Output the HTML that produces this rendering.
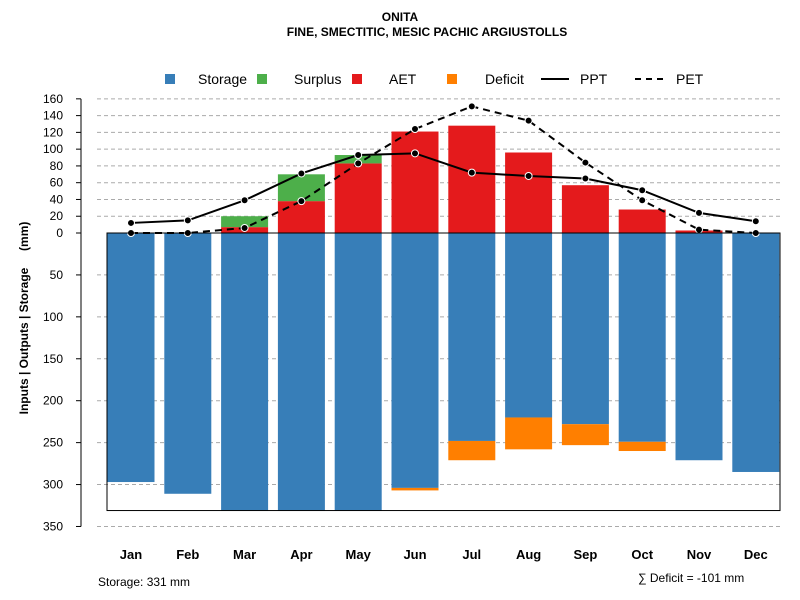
<!DOCTYPE html>
<html><head><meta charset="utf-8"><style>
body{margin:0;background:#fff;}
svg{display:block;font-family:"Liberation Sans",sans-serif;}
</style></head><body>
<svg id="chart" width="800" height="600" xmlns="http://www.w3.org/2000/svg">
<text x="400" y="21" text-anchor="middle" font-size="12" font-weight="bold">ONITA</text>
<text x="427" y="36" text-anchor="middle" font-size="12" font-weight="bold">FINE, SMECTITIC, MESIC PACHIC ARGIUSTOLLS</text>
<text transform="translate(28,318) rotate(-90)" text-anchor="middle" font-size="12" font-weight="bold" style="white-space:pre">Inputs | Outputs | Storage     (mm)</text>
<text x="98" y="586" font-size="12">Storage: 331 mm</text>
<text x="638" y="582" font-size="12">∑ Deficit = -101 mm</text>
<g id="legend"></g>
<g id="grid"></g><g id="bars"></g><g id="lines"></g><g id="axes"></g>
</svg>
<script>
const months=["Jan","Feb","Mar","Apr","May","Jun","Jul","Aug","Sep","Oct","Nov","Dec"];
const storage=[297,311,331,331,331,304,248,220,228,249,271,285];
const deficit=[0,0,0,0,0,3,23,38,25,11,0,0];
const aet=[0,0,7,38,83,121,128,96,57,28,3,0];
const surplus=[0,0,13,32,10,0,0,0,0,0,0,0];
const ppt=[12,15,39,71,93,95,72,68,65,51,24,14];
const pet=[0,0,6,38,83,124,151,134,84,39,4,0];
const posTicks=[0,20,40,60,80,100,120,140,160];
const negTicks=[50,100,150,200,250,300,350];
const maxStorage=331;
const NS="http://www.w3.org/2000/svg";
const y0=233,k=0.8385;
const yp=v=>y0-v*k, yn=v=>y0+v*k;
const xc=i=>131+i*56.8;
const bw=47;
function mk(tag,attrs,parent){const e=document.createElementNS(NS,tag);for(const a in attrs)e.setAttribute(a,attrs[a]);document.getElementById(parent).appendChild(e);return e;}
posTicks.forEach(t=>{
  if(t>0){const g=mk('line',{x1:97,x2:780,y1:yp(t),y2:yp(t),stroke:'#aaa','stroke-dasharray':'4,3'},'grid');
  
  }
  mk('line',{x1:76,x2:81,y1:yp(t),y2:yp(t),stroke:'#000'},'axes');
  const tx=mk('text',{x:63,y:yp(t)+4,'text-anchor':'end','font-size':12},'axes');tx.textContent=t;
  
  
});
negTicks.forEach(t=>{
  const g=mk('line',{x1:97,x2:780,y1:yn(t),y2:yn(t),stroke:'#aaa','stroke-dasharray':'4,3'},'grid');
  
  
  mk('line',{x1:76,x2:81,y1:yn(t),y2:yn(t),stroke:'#000'},'axes');
  const tx=mk('text',{x:63,y:yn(t)+4,'text-anchor':'end','font-size':12},'axes');tx.textContent=t;
  
  
});
mk('line',{x1:81,x2:81,y1:yp(160),y2:yn(350),stroke:'#000'},'axes');
mk('rect',{x:107,y:y0,width:673,height:maxStorage*k,fill:'none',stroke:'#000'},'axes');
months.forEach((m,i)=>{
  const x=xc(i)-bw/2;
  let r=mk('rect',{x:x,y:y0,width:bw,height:storage[i]*k,fill:'#377eb8'},'bars');
  
  
  if(deficit[i]>0){r=mk('rect',{x:x,y:yn(storage[i]),width:bw,height:deficit[i]*k,fill:'#ff7f00'},'bars');
  
  }
  if(aet[i]>0){r=mk('rect',{x:x,y:yp(aet[i]),width:bw,height:aet[i]*k,fill:'#e41a1c'},'bars');
  
  }
  if(surplus[i]>0){r=mk('rect',{x:x,y:yp(aet[i]+surplus[i]),width:bw,height:surplus[i]*k,fill:'#4daf4a'},'bars');
  
  }
  const t=mk('text',{x:xc(i),y:559,'text-anchor':'middle','font-size':13,'font-weight':'bold'},'axes');t.textContent=m;
  
  
});
mk('line',{x1:107,x2:780,y1:y0,y2:y0,stroke:'#000'},'bars');
function series(vals,dash,name){
  const p=mk('polyline',{points:vals.map((v,i)=>xc(i)+','+yp(v)).join(' '),fill:'none',stroke:'#000','stroke-width':2,'stroke-dasharray':dash},'lines');
  
  
  vals.forEach((v,i)=>{const c=mk('circle',{cx:xc(i),cy:yp(v),r:3.5,fill:'#000',stroke:'#fff','stroke-width':1},'lines');
  
  });
}
series(pet,'7,5','pet');
series(ppt,'none','ppt');
const leg=[["Storage","#377eb8",170,198],["Surplus","#4daf4a",262,294],["AET","#e41a1c",357,389],["Deficit","#ff7f00",452,485]];
leg.forEach(l=>{
  const r=mk('rect',{x:l[2]-5,y:74,width:10,height:10,fill:l[1]},'legend');
  
  
  const t=mk('text',{x:l[3],y:84,'font-size':14},'legend');t.textContent=l[0];
  
  
});
mk('line',{x1:541,x2:569,y1:79,y2:79,stroke:'#000','stroke-width':2},'legend');
let t=mk('text',{x:580,y:84,'font-size':14},'legend');t.textContent='PPT';


mk('line',{x1:635,x2:663,y1:79,y2:79,stroke:'#000','stroke-width':2,'stroke-dasharray':'6,5'},'legend');
t=mk('text',{x:676,y:84,'font-size':14},'legend');t.textContent='PET';


</script>
</body></html>
